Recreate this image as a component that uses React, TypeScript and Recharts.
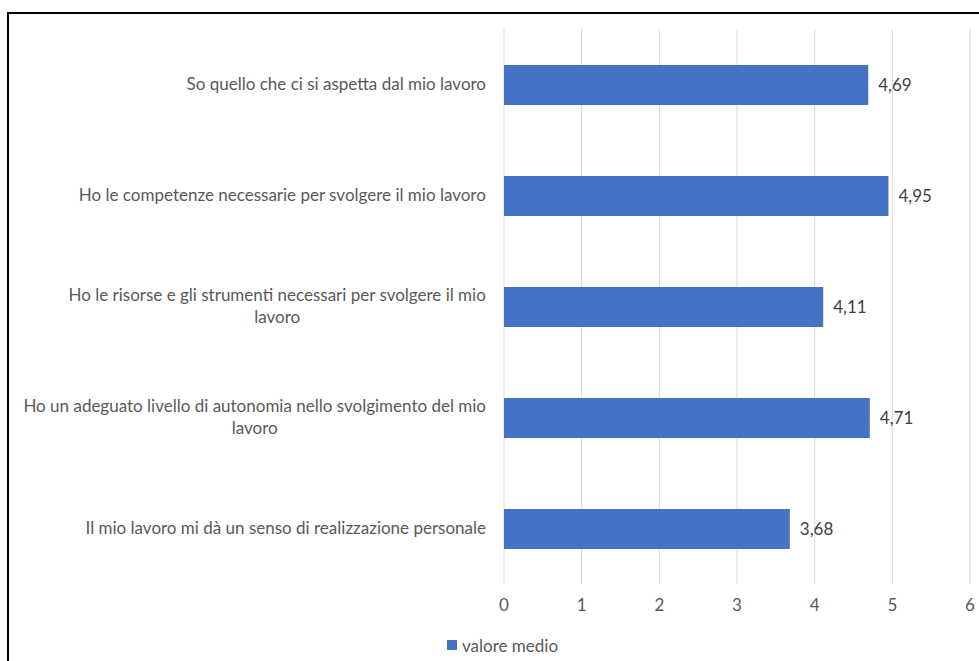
import React from 'react';
import { BarChart, Bar, XAxis, YAxis, CartesianGrid, Legend, LabelList } from 'recharts';

// category labels, '\n' marks where the original wraps
const categories = [
  'So quello che ci si aspetta dal mio lavoro',
  'Ho le competenze necessarie per svolgere il mio lavoro ',
  'Ho le risorse e gli strumenti necessari per svolgere il mio\nlavoro',
  'Ho un adeguato livello di autonomia nello svolgimento del mio\nlavoro',
  'Il mio lavoro mi dà un senso di realizzazione personale',
];
const values = [4.69, 4.95, 4.11, 4.71, 3.68];
const xTicks = [0, 1, 2, 3, 4, 5, 6];
const seriesName = 'valore medio';

const FONT = 'Lato, "Noto Sans", sans-serif';
const FONT_SIZE = 17;
const LINE_H = 22;
const AXIS_GREY = '#595959';
const BAR_BLUE = '#4472C4';

const data = categories.map((c, i) => ({ name: c, value: values[i] }));

let ctx: CanvasRenderingContext2D | null = null;
const measure = (s: string) => {
  if (!ctx) ctx = document.createElement('canvas').getContext('2d');
  if (!ctx) return s.length * 8;
  ctx.font = `${FONT_SIZE}px Lato`;
  return ctx.measureText(s).width;
};

// Excel style: block right-aligned, lines centred within it
const CategoryTick = (props: any) => {
  const { x, y, payload } = props;
  const lines = String(payload.value).split('\n');
  const block = Math.max(...lines.map((l) => measure(l.trimEnd())));
  const cx = x - block / 2;
  const startY = y - ((lines.length - 1) * LINE_H) / 2;
  return (
    <text textAnchor="middle" fill={AXIS_GREY} fontSize={FONT_SIZE} fontFamily={FONT}>
      {lines.map((l, i) => (
        <tspan key={i} x={cx} y={startY + i * LINE_H} dy="0.35em">
          {l.trimEnd()}
        </tspan>
      ))}
    </text>
  );
};

const LegendContent = () => (
  <div style={{ display: 'flex', alignItems: 'center', height: 20, fontFamily: FONT, fontSize: FONT_SIZE, color: AXIS_GREY }}>
    <span style={{ width: 10, height: 10, background: BAR_BLUE, marginRight: 5, display: 'inline-block' }} />
    <span>{seriesName}</span>
  </div>
);

const App: React.FC = () => {
  return (
    <div style={{ position: 'fixed', left: 0, top: 0, width: 979, height: 661, overflow: 'hidden', background: '#fff' }}>
      <div
        style={{
          position: 'absolute', left: 7, top: 12, width: 1000, height: 700,
          borderTop: '2px solid #000', borderLeft: '2px solid #000',
        }}
      />
      <div style={{ position: 'absolute', left: 0, top: 0 }}>
        <BarChart
          width={979}
          height={661}
          data={data}
          layout="vertical"
          margin={{ top: 29, right: 9, left: 0, bottom: 6 }}
          barCategoryGap="32%"
        >
          <CartesianGrid horizontal={false} stroke="#d9d9d9" />
          <XAxis
            type="number"
            domain={[0, 6]}
            ticks={xTicks}
            axisLine={false}
            tickLine={false}
            tickMargin={9}
            height={51}
            tick={{ fill: AXIS_GREY, fontSize: FONT_SIZE, fontFamily: FONT }}
          />
          <YAxis
            type="category"
            dataKey="name"
            width={504}
            axisLine={false}
            tickLine={false}
            tickSize={0}
            tickMargin={18}
            tick={<CategoryTick />}
            interval={0}
          />
          <Legend
            verticalAlign="bottom"
            content={<LegendContent />}
            wrapperStyle={{ left: 447, width: 200 }}
          />
          <Bar dataKey="value" name={seriesName} fill={BAR_BLUE} barSize={40} isAnimationActive={false}>
            <LabelList
              dataKey="value"
              position="right"
              offset={10}
              fill="#404040"
              fontSize={FONT_SIZE}
              fontFamily={FONT}
              formatter={(v: any) => Number(v).toFixed(2).replace('.', ',')}
            />
          </Bar>
        </BarChart>
      </div>
    </div>
  );
};

export default App;
